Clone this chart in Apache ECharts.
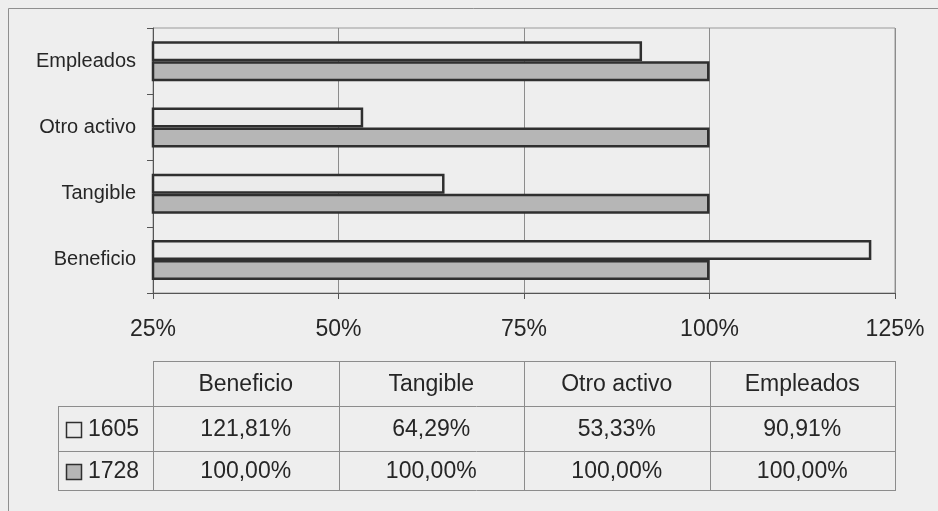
<!DOCTYPE html>
<html>
<head>
<meta charset="utf-8">
<title>Beneficio, Tangible, Otro activo, Empleados</title>
<script src="https://cdn.jsdelivr.net/npm/echarts@6/dist/echarts.min.js"></script>
<style>
  html, body { margin: 0; padding: 0; background: #eeeeee; }
  #chart { width: 938px; height: 511px; }
</style>
</head>
<body>
<div id="chart"></div>
<script>
// Categories (bottom to top on the chart, left to right in the table)
const categories = ['Beneficio', 'Tangible', 'Otro activo', 'Empleados'];
// Series names
const seriesNames = ['1605', '1728'];
// Values in percent
const values1605 = [121.81, 64.29, 53.33, 90.91];
const values1728 = [100.00, 100.00, 100.00, 100.00];
// Value axis ticks
const axisMin = 25;
const axisMax = 125;
const axisStep = 25;

const FONT = '"Liberation Sans", Arial, sans-serif';
const TEXT = '#262626';
const LINE = '#8c8c8c';
const BAR_EDGE = '#2f2f2f';
const FILL_1605 = '#ebebeb';
const FILL_1728 = '#b6b6b6';

// Plot area
const G = { left: 153, top: 28, width: 742, height: 265 };

// Data table layout (columns follow the categories across the plot width)
const T = { legendLeft: 58, headTop: 361, row1Top: 406, row2Top: 451, bottom: 490 };

function pct(v) {
  return v.toFixed(2).replace('.', ',') + '%';
}

function buildTable() {
  const els = [];
  const colW = G.width / categories.length;
  const colX = i => G.left + i * colW;
  const right = colX(categories.length);
  const hl = (x1, x2, y) => ({
    type: 'line', silent: true,
    shape: { x1: x1, y1: y + 0.5, x2: x2, y2: y + 0.5 },
    style: { stroke: LINE, lineWidth: 1 }
  });
  const vl = (x, y1, y2) => ({
    type: 'line', silent: true,
    shape: { x1: Math.round(x) + 0.5, y1: y1, x2: Math.round(x) + 0.5, y2: y2 + 1 },
    style: { stroke: LINE, lineWidth: 1 }
  });
  const txt = (s, x, y, align) => ({
    type: 'text', silent: true,
    style: {
      text: s, x: x, y: y, align: align || 'center', verticalAlign: 'middle',
      fontFamily: FONT, fontSize: 23, fill: TEXT
    }
  });

  // grid lines of the table
  els.push(hl(G.left, right, T.headTop));
  els.push(hl(T.legendLeft, right, T.row1Top));
  els.push(hl(T.legendLeft, right, T.row2Top));
  els.push(hl(T.legendLeft, right, T.bottom));
  els.push(vl(T.legendLeft, T.row1Top, T.bottom));
  for (let i = 0; i <= categories.length; i++) {
    els.push(vl(colX(i), T.headTop, T.bottom));
  }

  // header
  const headY = (T.headTop + T.row1Top) / 2 + 1;
  categories.forEach((c, i) => els.push(txt(c, colX(i) + colW / 2, headY)));

  // rows
  const rows = [
    { name: seriesNames[0], vals: values1605, fill: FILL_1605, top: T.row1Top, bot: T.row2Top },
    { name: seriesNames[1], vals: values1728, fill: FILL_1728, top: T.row2Top, bot: T.bottom }
  ];
  rows.forEach(r => {
    const cy = (r.top + r.bot) / 2 + 1;
    els.push({
      type: 'rect', silent: true,
      shape: { x: 66.5, y: Math.round(cy) - 7.5, width: 15, height: 15 },
      style: { fill: r.fill, stroke: BAR_EDGE, lineWidth: 1.5 }
    });
    els.push(txt(r.name, 88, cy, 'left'));
    r.vals.forEach((v, i) => els.push(txt(pct(v), colX(i) + colW / 2, cy)));
  });

  // outer chart area frame
  els.push({
    type: 'rect', silent: true, z: -1,
    shape: { x: 8.5, y: 8.5, width: 1000, height: 600 },
    style: { fill: null, stroke: '#8f8f8f', lineWidth: 1 }
  });
  return els;
}

const chart = echarts.init(document.getElementById('chart'), null, { renderer: 'canvas' });

const barStyle = fill => ({
  color: fill,
  borderColor: BAR_EDGE,
  borderWidth: 2.5
});

chart.setOption({
  backgroundColor: '#eeeeee',
  animation: false,
  grid: {
    left: G.left, top: G.top, width: G.width, height: G.height,
    show: true, borderColor: '#9a9a9a', borderWidth: 1,
    containLabel: false
  },
  xAxis: {
    type: 'value',
    min: axisMin, max: axisMax, interval: axisStep,
    axisLine: { show: true, lineStyle: { color: '#555555', width: 1 } },
    axisTick: { show: true, length: 6, lineStyle: { color: '#555555' } },
    splitLine: { show: true, lineStyle: { color: LINE, width: 1 } },
    axisLabel: {
      margin: 25, fontFamily: FONT, fontSize: 23, color: TEXT,
      formatter: '{value}%'
    }
  },
  yAxis: {
    type: 'category',
    data: categories,
    axisLine: { show: true, lineStyle: { color: '#555555', width: 1 } },
    axisTick: { show: true, length: 6, lineStyle: { color: '#555555' } },
    axisLabel: { margin: 17, fontFamily: FONT, fontSize: 20, color: TEXT }
  },
  series: [
    {
      name: seriesNames[0], type: 'bar', data: values1605,
      barWidth: 20, barGap: '0%',
      itemStyle: barStyle(FILL_1605)
    },
    {
      name: seriesNames[1], type: 'bar', data: values1728,
      barWidth: 20, barGap: '0%',
      itemStyle: barStyle(FILL_1728)
    }
  ],
  graphic: buildTable()
});
</script>
</body>
</html>
